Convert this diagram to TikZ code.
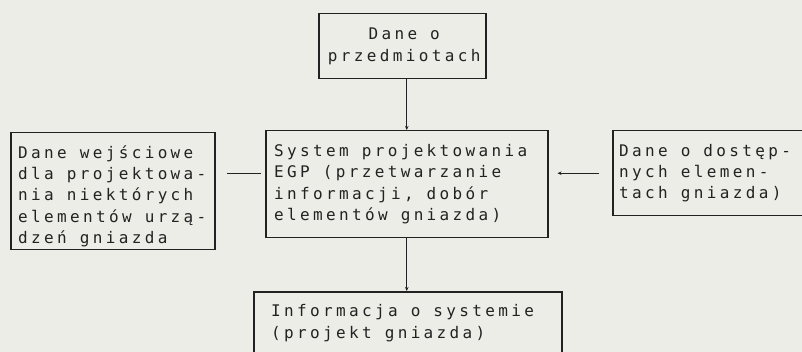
\documentclass[tikz,border=0pt]{standalone}
\usepackage{fontspec}
\usetikzlibrary{arrows.meta}
\newfontfamily\dotfont[LetterSpace=21]{DejaVu Sans Mono}
\definecolor{paper}{RGB}{236,237,230}
\definecolor{ink}{RGB}{34,34,34}
\begin{document}
\begin{tikzpicture}[x=1pt,y=-1pt,
  box/.style={draw=ink, line width=1.5pt, rectangle, anchor=north west, inner sep=0pt},
  txt/.style={font=\dotfont\fontsize{16}{21.3}\selectfont, text=ink, align=left, inner sep=0pt, anchor=west},
  conn/.style={draw=ink, line width=1.1pt},
  tip/.style={-{Stealth[length=4pt,width=3.5pt]}}]
  % page
  \fill[paper] (0,0) rectangle (802,352);
  \useasboundingbox (0,0) rectangle (802,352);

  % boxes
  \node[box, minimum width=167pt, minimum height=65pt]  (top) at (318,13)  {};
  \node[box, minimum width=282pt, minimum height=107pt] (ctr) at (265,130) {};
  \node[box, minimum width=204pt, minimum height=117pt] (lft) at (10,132)  {};
  \node[box, minimum width=194pt, minimum height=85pt]  (rgt) at (612,130) {};
  \node[box, minimum width=308pt, minimum height=63pt]  (bot) at (253,291) {};

  % box texts
  \node[txt, align=center, anchor=center] (topt) at ([xshift=2pt]top.center) {Dane o\\przedmiotach};
  \node[txt] (ctrt) at ([xshift=9pt]ctr.west) {System projektowania\\EGP (przetwarzanie\\informacji, dobór\\elementów gniazda)};
  \node[txt] (lftt) at ([xshift=8pt,yshift=-5pt]lft.west) {Dane wejściowe\\dla projektowa-\\nia niektórych\\elementów urzą-\\dzeń gniazda};
  \node[txt] (rgtt) at ([xshift=7pt]rgt.west) {Dane o dostęp-\\nych elemen-\\tach gniazda)};
  \node[txt] (bott) at ([xshift=18pt]bot.west) {Informacja o systemie\\(projekt gniazda)};

  % connectors
  \draw[conn, tip] (top.south -| ctr.north) -- (ctr.north);
  \draw[conn, tip] (ctr.south) -- (ctr.south |- bot.north);
  \draw[conn, tip, shorten <=13pt, shorten >=9pt] (rgt.west) -- (rgt.west -| ctr.east);
  \draw[conn, shorten <=4pt, shorten >=11pt] (ctr.west |- rgt.west) -- (lft.east |- rgt.west);
\end{tikzpicture}
\end{document}
